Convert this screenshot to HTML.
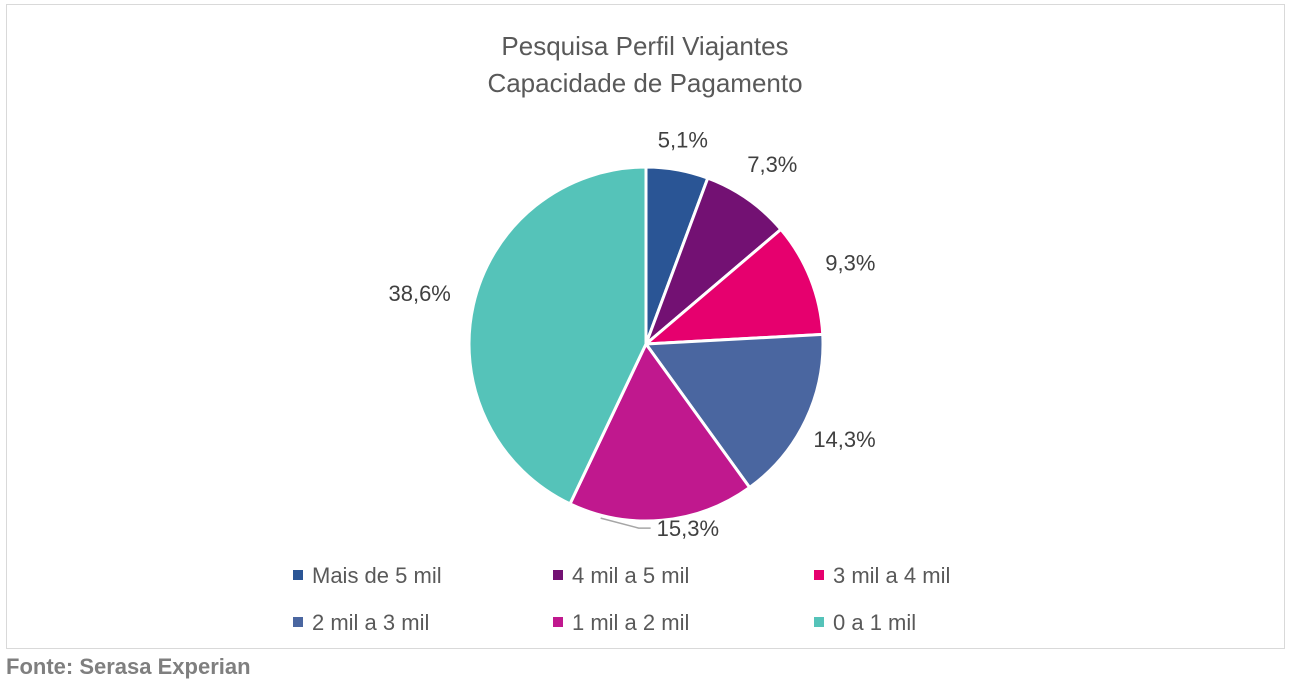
<!DOCTYPE html>
<html><head><meta charset="utf-8">
<style>
body{margin:0;background:#fff;font-family:"Liberation Sans",sans-serif;}
svg{display:block}
</style></head>
<body>
<svg width="1290" height="682">
<rect x="6.5" y="4.5" width="1278" height="644" fill="#fff" stroke="#d9d9d9" stroke-width="1"/>
<text x="645" y="55" text-anchor="middle" font-size="26" fill="#595959">Pesquisa Perfil Viajantes</text>
<text x="645" y="92" text-anchor="middle" font-size="26" fill="#595959">Capacidade de Pagamento</text>
<g id="pie"></g>
<g id="labels"></g>
<g id="legend"></g>
<text x="6" y="674" font-size="22" font-weight="bold" fill="#7f7f7f">Fonte: Serasa Experian</text>
</svg>
<script>
const categories=["Mais de 5 mil","4 mil a 5 mil","3 mil a 4 mil","2 mil a 3 mil","1 mil a 2 mil","0 a 1 mil"];
const values=[5.1,7.3,9.3,14.3,15.3,38.6];
const valueLabels=["5,1%","7,3%","9,3%","14,3%","15,3%","38,6%"];
const colors=["#2a5595","#731173","#e6006e","#4a66a0","#c0188e","#55c3b9"];
const NS="http://www.w3.org/2000/svg";
const cx=646,cy=344,r=177;
const total=values.reduce((a,b)=>a+b,0);
const pt=(ang,rad)=>[cx+Math.sin(ang)*rad,cy-Math.cos(ang)*rad];
const pie=document.getElementById('pie'),lab=document.getElementById('labels');
let acc=0;
values.forEach((v,i)=>{
  const a0=acc/total*2*Math.PI;acc+=v;const a1=acc/total*2*Math.PI;
  const p0=pt(a0,r),p1=pt(a1,r);
  const large=(a1-a0)>Math.PI?1:0;
  const p=document.createElementNS(NS,'path');
  p.setAttribute('d',`M${cx},${cy}L${p0[0]},${p0[1]}A${r},${r} 0 ${large} 1 ${p1[0]},${p1[1]}Z`);
  p.setAttribute('fill',colors[i]);p.setAttribute('stroke','#fff');p.setAttribute('stroke-width','3');
  
  
  pie.appendChild(p);
  const am=(a0+a1)/2;
  const t=document.createElementNS(NS,'text');
  let lp;
  if(i===4){
    const e=pt(am+0.35,r);
    const ln=document.createElementNS(NS,'polyline');
    ln.setAttribute('points',`${e[0]},${e[1]+3} ${e[0]+38},${e[1]+13} ${e[0]+50},${e[1]+13}`);
    ln.setAttribute('fill','none');ln.setAttribute('stroke','#a6a6a6');ln.setAttribute('stroke-width','1.5');
    
    
    lab.appendChild(ln);
    lp=[e[0]+56,e[1]+21];t.setAttribute('text-anchor','start');
  }else{
    const R=i===5?232:(i===0?208:220);
    lp=pt(am,R);lp[1]+=8;t.setAttribute('text-anchor','middle');
  }
  t.setAttribute('x',lp[0]);t.setAttribute('y',lp[1]);
  t.setAttribute('font-size','22');t.setAttribute('fill','#404040');
  t.textContent=valueLabels[i];
  
  
  lab.appendChild(t);
});
const lg=document.getElementById('legend');
const colX=[293,553,814],rowY=[575,622];
categories.forEach((c,i)=>{
  const x=colX[i%3],y=rowY[Math.floor(i/3)];
  const g=document.createElementNS(NS,'g');
  
  
  const s=document.createElementNS(NS,'rect');
  s.setAttribute('x',x);s.setAttribute('y',y-5);s.setAttribute('width',10);s.setAttribute('height',10);s.setAttribute('fill',colors[i]);
  
  
  const t=document.createElementNS(NS,'text');
  t.setAttribute('x',x+19);t.setAttribute('y',y+8);t.setAttribute('font-size','22');t.setAttribute('fill','#595959');
  t.textContent=c;
  
  
  g.appendChild(s);g.appendChild(t);lg.appendChild(g);
});
</script>
</body></html>
